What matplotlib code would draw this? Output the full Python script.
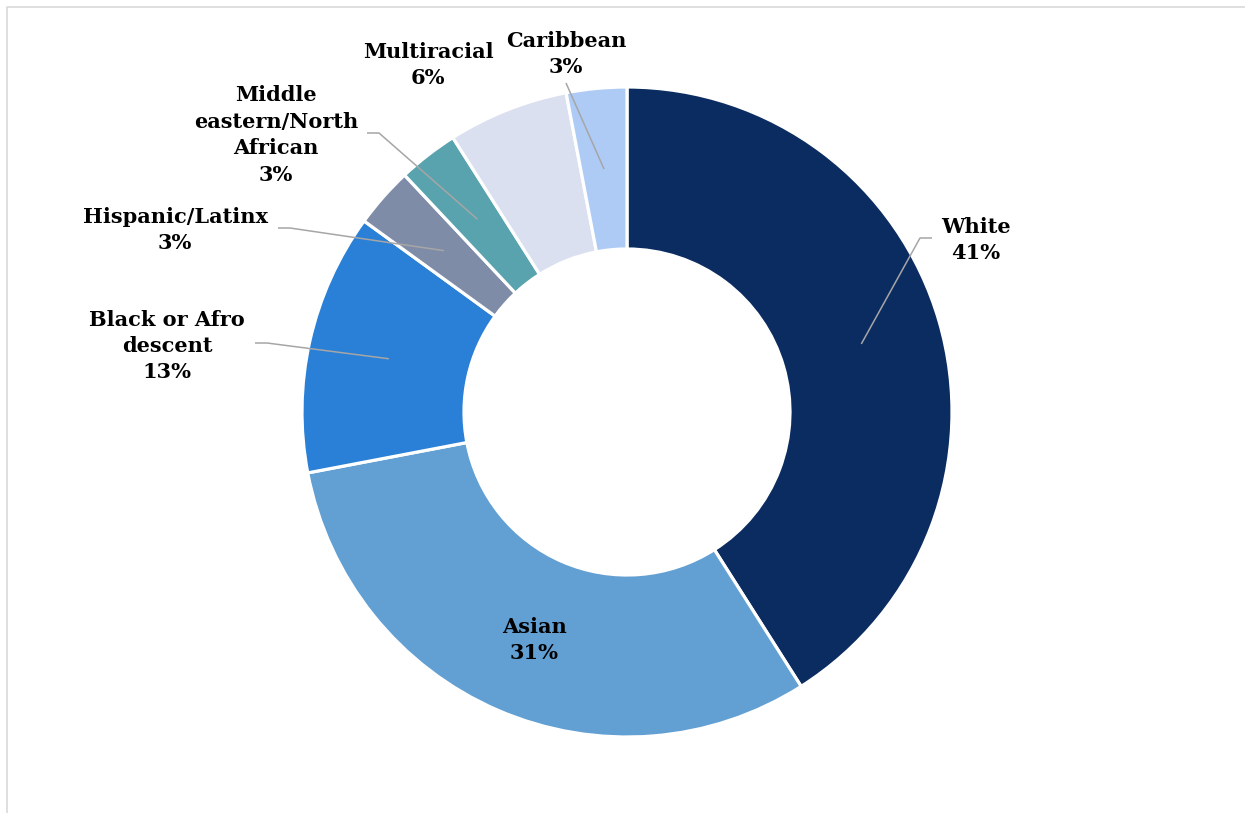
import matplotlib.pyplot as plt
import numpy as np

# donut data, clockwise from 12 o'clock
groups = ["White", "Asian", "Black or Afro\ndescent", "Hispanic/Latinx",
          "Middle\neastern/North\nAfrican", "Multiracial", "Caribbean"]
shares = [41, 31, 13, 3, 3, 6, 3]
colors = ["#0B2C60", "#629FD3", "#2A7FD6", "#7F8CA8", "#58A3AE", "#DBE0F0", "#AECBF5"]

W, H = 1245, 813
cx, cy = 627, 412          # ring centre (pixel coords, y down)
r_out, r_in = 325, 163

# label centres and leader start/knee points (pixel coords, y down)
label_pos = [(976, 240), (534, 640), (167, 346), (175, 230), (276, 135), (428, 65), (566, 54)]
leaders = [
    [(932, 238), (920, 238)],
    None,
    [(255, 343), (267, 343)],
    [(278, 228), (290, 228)],
    [(367, 133), (379, 133)],
    None,
    [(566, 83)],
]

fig = plt.figure(figsize=(W / 100, H / 100), dpi=100)
ax = fig.add_axes([0, 0, 1, 1])

def fy(y):
    return H - y

wedges, _ = ax.pie(shares, colors=colors, startangle=90, counterclock=False,
                   radius=r_out, center=(cx, fy(cy)),
                   wedgeprops=dict(width=r_out - r_in, edgecolor="white", linewidth=2.3))

r_mid = (r_out + r_in) / 2
cum = 0
for name, val, (lx, ly), lead in zip(groups, shares, label_pos, leaders):
    ang = np.deg2rad(90 - (cum + val / 2) * 3.6)
    cum += val
    ax.text(lx, fy(ly), f"{name}\n{val}%", ha="center", va="center", multialignment="center",
            fontsize=15, fontweight="bold", family="DejaVu Serif", color="black",
            linespacing=1.4)
    if lead is not None:
        px = [p[0] for p in lead] + [cx + r_mid * np.cos(ang)]
        py = [fy(p[1]) for p in lead] + [fy(cy) + r_mid * np.sin(ang)]
        ax.plot(px, py, color="#A6A6A6", lw=1.1, solid_capstyle="butt")

# chart border (only left and top edges are inside the frame)
ax.plot([7, 7, W], [0, fy(7), fy(7)], color="#D9D9D9", lw=1.2)

ax.set_xlim(0, W)
ax.set_ylim(0, H)
ax.set_aspect("equal")
ax.axis("off")

fig.savefig("out.png", dpi=100)
